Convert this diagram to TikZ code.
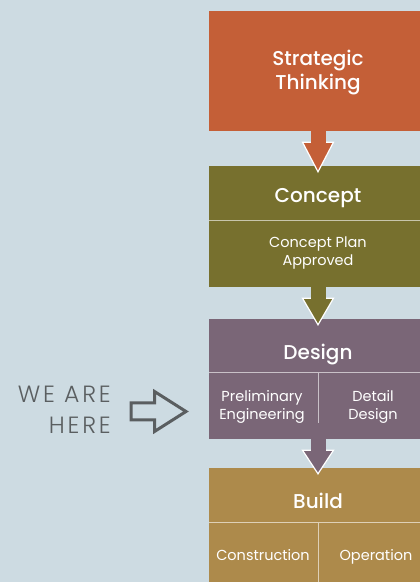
\documentclass[tikz,border=0pt]{standalone}
\usepackage{fontspec}
\setmainfont{Poppins}
\newfontfamily\titlefont{Poppins Medium}
\newfontfamily\lightfont{Poppins Light}[LetterSpace=12]
\usetikzlibrary{calc}
\definecolor{bg}{HTML}{CDDBE2}
\definecolor{cstrat}{HTML}{C45F37}
\definecolor{cconcept}{HTML}{77702E}
\definecolor{cdesign}{HTML}{7A6677}
\definecolor{cbuild}{HTML}{AD8A4B}
\definecolor{cgrey}{HTML}{5A5E60}
\tikzset{
  box/.style={fill=#1, draw=none, inner sep=0, minimum width=218, anchor=center},
  title/.style={text=white, align=center, font=\titlefont\fontsize{20}{24}\selectfont, inner sep=0},
  sub/.style={text=white, align=center, font=\fontsize{14.5}{18}\selectfont, inner sep=0},
  herestyle/.style={anchor=base east, text=cgrey, inner sep=0, font=\lightfont\fontsize{23.5}{30}\selectfont},
  divider/.style={draw=white, draw opacity=0.6, line width=1},
}
\newcommand\blockarrow[3]{%
  \filldraw[fill=#3, draw=white, line width=1.2, line join=miter]
    ($(#1.south)+(-15.5,-11)$) -- ($(#1.south)+(15.5,-11)$) -- ($(#2.north)+(0,-6)$) -- cycle;
  \fill[#3] ($(#1.south)+(-7.5,0)$) rectangle ($(#1.south)+(7.5,-12)$);
}
\begin{document}
\begin{tikzpicture}[x=1pt,y=1pt]
\fill[bg] (0,0) rectangle (420,582);
\useasboundingbox (0,0) rectangle (420,582);
% boxes
\node[box=cstrat, minimum height=120] (strat) at (318,511) {};
\node[box=cconcept, minimum height=121] (concept) at (318,355.5) {};
\node[box=cdesign, minimum height=120] (design) at (318,203) {};
\node[box=cbuild, minimum height=132] (build) at (318,48) {};
% dividers
\draw[divider] (concept.west |- 0,361) -- (concept.east |- 0,361);
\draw[divider] (design.west |- 0,209) -- (design.east |- 0,209);
\draw[divider] (318,209) -- (318,159);
\draw[divider] (build.west |- 0,59) -- (build.east |- 0,59);
\draw[divider] (318,59) -- (318,-18);
% texts
\node[title] (tstrat) at (318,509) {Strategic\\Thinking};
\node[title, anchor=base] (tconcept) at (318,379.7) {Concept};
\node[sub] (sconcept) at (318,329) {Concept Plan\\Approved};
\node[title, anchor=base] (tdesign) at (318,222) {Design};
\node[sub] (prelim) at (262,175) {Preliminary\\Engineering};
\node[sub] (detail) at (373,175) {Detail\\Design};
\node[title, anchor=base] (tbuild) at (318,73.7) {Build};
\node[sub, anchor=base] (constr) at (263,21) {Construction};
\node[sub, anchor=base] (oper) at (376,21) {Operation};
% block arrows
\blockarrow{strat}{concept}{cstrat}
\blockarrow{concept}{design}{cconcept}
\blockarrow{design}{build}{cdesign}
% we are here
\node[herestyle] (here1) at (111,179.7) {WE ARE};
\node[herestyle] (here2) at (111,148) {HERE};
\coordinate (tip) at (186,170.5);
\draw[cgrey, line width=3, line join=miter]
  ($(tip)+(-55,8.5)$) -- ($(tip)+(-31.5,8.5)$) -- ($(tip)+(-31.5,20)$) -- (tip)
  -- ($(tip)+(-31.5,-20)$) -- ($(tip)+(-31.5,-8.5)$) -- ($(tip)+(-55,-8.5)$) -- cycle;
\end{tikzpicture}
\end{document}
